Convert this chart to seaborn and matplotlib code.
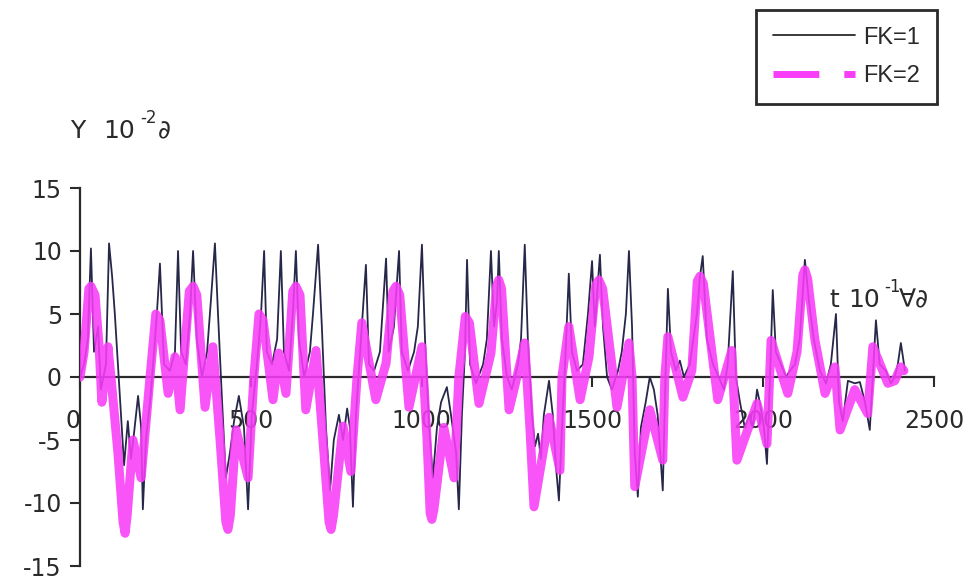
import numpy as np
import pandas as pd
import matplotlib
matplotlib.use('Agg')
import matplotlib.pyplot as plt
import seaborn as sns
from matplotlib.lines import Line2D

# стиль
sns.set_style('ticks')
plt.rcParams['font.family'] = ['Liberation Sans', 'DejaVu Sans']
plt.rcParams['axes.unicode_minus'] = False

# данные: FK=1 (тонкая тёмная линия)
t_fk1 = [0, 12, 23, 32, 41, 53, 61, 76, 85, 94,
         102, 111, 120, 129, 140, 149, 158, 170, 179, 184,
         193, 205, 214, 225, 234, 246, 263, 278, 287, 296,
         310, 322, 331, 342, 357, 372, 383, 395, 404, 416,
         427, 439, 451, 465, 480, 492, 503, 518, 530, 539,
         547, 562, 577, 588, 597, 612, 623, 632, 641, 656,
         673, 682, 697, 708, 720, 732, 743, 758, 770, 782,
         790, 799, 808, 820, 837, 846, 861, 878, 896, 904,
         919, 934, 942, 960, 978, 989, 1001, 1010, 1022, 1033,
         1045, 1057, 1074, 1086, 1101, 1109, 1118, 1127, 1133, 1142,
         1159, 1180, 1191, 1203, 1212, 1221, 1226, 1235, 1250, 1264,
         1282, 1291, 1302, 1311, 1323, 1332, 1341, 1349, 1358, 1373,
         1384, 1393, 1402, 1411, 1420, 1431, 1440, 1455, 1472, 1487,
         1499, 1507, 1522, 1531, 1543, 1557, 1575, 1586, 1598, 1607,
         1616, 1624, 1633, 1642, 1656, 1668, 1680, 1691, 1706, 1715,
         1721, 1730, 1744, 1756, 1768, 1785, 1806, 1815, 1823, 1835,
         1853, 1870, 1885, 1896, 1911, 1920, 1932, 1946, 1961, 1970,
         1982, 1990, 2002, 2011, 2020, 2028, 2037, 2052, 2067, 2078,
         2093, 2107, 2122, 2134, 2148, 2166, 2184, 2198, 2213, 2222,
         2233, 2248, 2268, 2283, 2298, 2312, 2324, 2330, 2341, 2359,
         2374, 2385, 2394, 2403, 2415]
y_fk1 = [0, 1, 3, 10.2, 2, 4, -1, 1, 10.6, 8,
         5, 1, -3, -7, -3.5, -6.5, -4.5, -1.5, -4, -10.5,
         -5, -2, 1, 5, 9, 1, 0.5, 2, 10, 2,
         1, 5, 10, 3, 0, 2, 6, 10.6, 5, -2,
         -8, -6, -3.5, -1.5, -4, -10.5, -3, 1, 5, 10,
         2, 1, 3, 10, 2, 0.5, 5, 10, 3, 0,
         2, 5, 10.5, 4, -4, -9, -5, -3, -5, -2.5,
         -4, -10.3, -3, 2, 8.9, 1, 0.5, 2, 9.4, 2,
         4, 10, 2, 0.5, 2, 4, 10.5, 3, -4, -8,
         -4, -2, -0.8, -3, -6, -10.5, -3, 2, 9.3, 1,
         -0.5, 1, 3, 10, 4, 6, 10, 3, 0, -1,
         1, 3, 10.5, 3, -3, -5.5, -4.5, -6.5, -3, -0.3,
         -3, -7, -9.8, -4, 1, 8.2, 2, 0.5, 1, 5,
         9.2, 4, 9.7, 4, 0, -1, 0.5, 2, 5, 10,
         4, -6, -9.5, -4, -2, 0, -1, -3, -9, 1,
         7, 2, 0.5, 1.3, 0, 1, 5, 8, 9.6, 3,
         1, 0, -1, 1, 8.4, 0, -2, -4, -3, -4,
         -1, -2, -4, -6.9, 0, 6.9, 2, 1, 0, 0.5,
         1, 3, 9.3, 6, 3, 0.5, -0.5, 1, 5, -2,
         -3.5, -0.3, -0.5, -0.4, -2, -4.2, 1.5, 4.5, 1, 0.5,
         -0.5, 0, 1, 2.7, 0.5]

# FK=2 (толстая розовая линия)
t_fk2 = [0, 12, 26, 32, 44, 56, 64, 82, 94, 111,
         126, 132, 138, 155, 179, 205, 222, 234, 258, 278,
         293, 320, 331, 342, 366, 389, 410, 427, 433, 440,
         457, 492, 509, 524, 536, 565, 582, 603, 623, 632,
         644, 661, 691, 714, 729, 735, 742, 770, 793, 811,
         825, 866, 896, 916, 925, 936, 963, 1001, 1016, 1025,
         1030, 1036, 1065, 1095, 1109, 1128, 1140, 1168, 1203, 1220,
         1226, 1234, 1256, 1279, 1302, 1317, 1329, 1373, 1405, 1411,
         1431, 1464, 1490, 1510, 1519, 1530, 1572, 1607, 1616, 1624,
         1668, 1706, 1712, 1721, 1765, 1791, 1807, 1815, 1825, 1867,
         1908, 1923, 1982, 2011, 2023, 2072, 2099, 2116, 2122, 2130,
         2151, 2181, 2210, 2225, 2268, 2306, 2321, 2365, 2385, 2403,
         2412]
y_fk2 = [0, 2, 7, 7.2, 6.5, 2.4, -2.0, 2.4, -1, -6,
         -11.5, -12.4, -11, -5, -8, 0, 5, 4.5, -1.3, 1.6,
         -2.6, 6.8, 7.2, 6.5, -2.4, 2.4, -5, -11.5, -12.1, -11,
         -4.2, -8, 0, 5, 4.5, -1.8, 1.9, -1.3, 6.8, 7.2,
         6.5, -2.6, 2.1, -6, -11.5, -12.1, -11, -3.9, -7.5, 0,
         4.3, -1.8, 1.1, 6.8, 7.2, 6.5, -2.4, 2.4, -5, -10.8,
         -11.3, -10.5, -4, -8, 0, 4.8, 4.3, -2.1, 1.9, 7.3,
         7.7, 7, -2.6, 0, 2.7, -4, -10.3, -3.2, -7.4, 0,
         4, -1.8, 1.6, 7.3, 7.7, 7, -2.4, 2.7, 0, -8.7,
         -2.6, -6.6, 0, 3.2, -1.6, 0.5, 7.6, 8, 7.4, -1.8,
         2.1, -6.6, -2.1, -5.3, 2.9, -1.3, 2, 8.1, 8.5, 7.8,
         3, -1.3, 0.8, -4.2, -1, -2.9, 2.4, -0.5, -0.3, 0.8,
         0.5]

x_ticks = [0, 500, 1000, 1500, 2000, 2500]
y_ticks = [-15, -10, -5, 0, 5, 10, 15]

df1 = pd.DataFrame({'t': t_fk1, 'y': y_fk1})
df2 = pd.DataFrame({'t': t_fk2, 'y': y_fk2})

fs = 17
dark = '#2a2a2a'
pink = '#f83cf8'
W, H = 972, 579

fig = plt.figure(figsize=(W / 100, H / 100), dpi=100)
ax = fig.add_axes([80 / W, 13 / H, 854 / W, 378 / H])

sns.lineplot(data=df1, x='t', y='y', color='#27274a', linewidth=1.3,
             sort=False, estimator=None, ax=ax, zorder=2)
sns.lineplot(data=df2, x='t', y='y', color=pink, linewidth=6.5, alpha=0.88,
             sort=False, estimator=None, ax=ax, zorder=3)

ax.set_xlim(0, 2500)
ax.set_ylim(-15, 15)
ax.set_xticks(x_ticks)
ax.set_yticks(y_ticks)
ax.set_xlabel('')
ax.set_ylabel('')

# оси как в Excel: горизонтальная ось проходит через ноль
ax.spines['top'].set_visible(False)
ax.spines['right'].set_visible(False)
ax.spines['bottom'].set_position(('data', 0))
for s in ['left', 'bottom']:
    ax.spines[s].set_color(dark)
    ax.spines[s].set_linewidth(1.6)
    ax.spines[s].set_zorder(0.5)
ax.set_axisbelow(True)

ax.tick_params(axis='y', direction='out', length=7, width=1.5, color=dark,
               labelsize=fs, labelcolor=dark, pad=6)
ax.tick_params(axis='x', direction='out', length=7, width=1.5, color=dark,
               labelsize=fs, labelcolor=dark, pad=16)
for lab in ax.get_xticklabels() + ax.get_yticklabels():
    lab.set_family('DejaVu Sans')
ax.get_xticklabels()[0].set_horizontalalignment('right')


# подписи осей собираем из кусочков, чтобы показатель степени был как в оригинале
def put(px, py, s, size=18):
    fig.text(px / W, 1 - py / H, s, fontsize=size, color=dark, va='center', ha='left',
             family=['DejaVu Sans'])


put(70, 131, 'Y')
put(103, 131, '10')
put(140, 118, '-2', 12)
put(158, 131, '∂')

put(829, 300, 't')
put(848, 300, '10')
put(884, 287, '-1', 12)
put(899, 300, '∀∂')

# легенда
h1 = Line2D([], [], color=dark, linewidth=1.3)
h2 = Line2D([], [], color=pink, linewidth=5, dashes=(6.6, 3.6, 1.7, 10))
leg = fig.legend(handles=[h1, h2], labels=['FK=1', 'FK=2'], loc='upper right',
                 bbox_to_anchor=(937 / W, 1 - 10 / H), bbox_transform=fig.transFigure,
                 frameon=True, fancybox=False, edgecolor=dark, framealpha=1,
                 borderaxespad=0, handlelength=3.5, handletextpad=0.35,
                 labelspacing=0.7, borderpad=0.7, fontsize=fs)
leg.get_frame().set_linewidth(2)
for txt in leg.get_texts():
    txt.set_color(dark)

fig.savefig('out.png', dpi=100)
